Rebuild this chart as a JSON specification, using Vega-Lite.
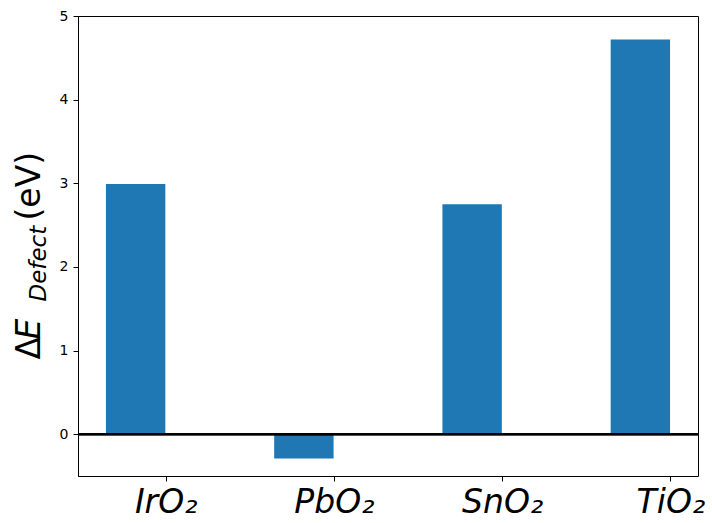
{
  "$schema": "https://vega.github.io/schema/vega-lite/v6.json",
  "width": 620,
  "height": 460,
  "autosize": "none",
  "padding": {"left": 78, "top": 16, "right": 14, "bottom": 47},
  "background": "white",
  "data": {"values": [
    {"material": "IrO₂", "defect": 2.99},
    {"material": "PbO₂", "defect": -0.29},
    {"material": "SnO₂", "defect": 2.75},
    {"material": "TiO₂", "defect": 4.72}
  ]},
  "config": {
    "view": {"stroke": "black", "strokeWidth": 1},
    "axis": {"grid": false, "domainColor": "black", "tickColor": "black", "labelColor": "black", "titleColor": "black", "labelFont": "DejaVu Sans", "titleFont": "DejaVu Sans", "titleFontWeight": "normal"}
  },
  "layer": [
    {
      "mark": {"type": "bar", "color": "#1f77b4"},
      "encoding": {
        "x": {
          "field": "material", "type": "nominal", "sort": null,
          "scale": {"paddingInner": 0.647, "paddingOuter": 0.166},
          "axis": {"title": null, "labelAngle": 0, "tickOffset": 30, "labelFontSize": 33, "labelFontStyle": "italic", "labelPadding": 5, "tickSize": 5, "labelBaseline": "top", "domain": false}
        },
        "y": {
          "field": "defect", "type": "quantitative",
          "scale": {"domain": [-0.5, 5], "nice": false, "zero": false},
          "axis": {"orient": "left", "values": [0, 1, 2, 3, 4, 5], "tickSize": 5, "labelFontSize": 14, "labelPadding": 5,
            "title": "Δ", "titleFontSize": 33, "titleAngle": -90, "titleAlign": "left", "titleBaseline": "alphabetic", "titleX": -39, "titleY": 343}
        }
      }
    },
    {
      "mark": {"type": "rule", "color": "black", "strokeWidth": 2},
      "encoding": {
        "y": {"datum": 0, "type": "quantitative",
          "axis": {"orient": "left", "labels": false, "ticks": false, "domain": false,
            "title": "E", "titleFontSize": 33, "titleFontStyle": "italic", "titleAngle": -90, "titleAlign": "left", "titleBaseline": "alphabetic", "titleX": -39, "titleY": 323}}
      }
    },
    {
      "mark": {"type": "rule", "color": "black", "strokeWidth": 2, "opacity": 0},
      "encoding": {
        "y": {"datum": 0, "type": "quantitative",
          "axis": {"orient": "left", "labels": false, "ticks": false, "domain": false,
            "title": "Defect", "titleFontSize": 23, "titleFontStyle": "italic", "titleAngle": -90, "titleAlign": "left", "titleBaseline": "alphabetic", "titleX": -33, "titleY": 285}}
      }
    },
    {
      "mark": {"type": "rule", "color": "black", "strokeWidth": 2, "opacity": 0},
      "encoding": {
        "y": {"datum": 0, "type": "quantitative",
          "axis": {"orient": "left", "labels": false, "ticks": false, "domain": false,
            "title": "(eV)", "titleFontSize": 33, "titleAngle": -90, "titleAlign": "left", "titleBaseline": "alphabetic", "titleX": -39, "titleY": 204}}
      }
    }
  ],
  "resolve": {"axis": {"y": "independent"}}
}
